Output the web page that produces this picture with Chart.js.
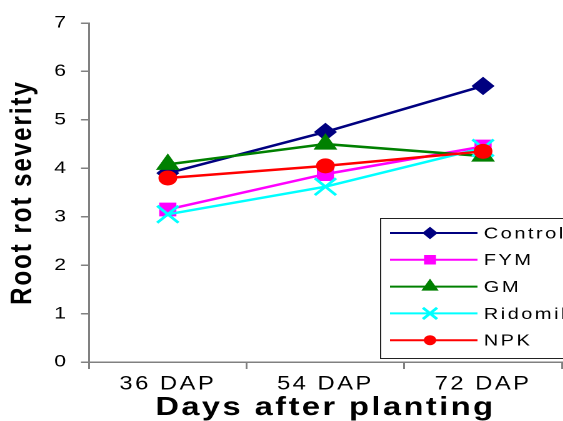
<!DOCTYPE html>
<html>
<head>
<meta charset="utf-8">
<script src="https://cdn.jsdelivr.net/npm/chart.js@4.4.0/dist/chart.umd.min.js"></script>
<style>
  html, body { margin: 0; padding: 0; background: #fff; overflow: hidden; }
  /* the source picture is stretched sideways, so draw narrow and widen it */
  #wrap { position: absolute; left: 0; top: 0; width: 464px; height: 421px; transform: scaleX(1.25); transform-origin: 0 0; }
</style>
</head>
<body>
<div id="wrap"><canvas id="rootRotChart"></canvas></div>
<script>
// chart data
const categories = ['36 DAP', '54 DAP', '72 DAP'];
const seriesNames = ['Control', 'FYM', 'GM', 'Ridomil', 'NPK'];
const controlValues = [3.9, 4.75, 5.7];
const fymValues = [3.15, 3.88, 4.45];
const gmValues = [4.08, 4.5, 4.25];
const ridomilValues = [3.05, 3.62, 4.42];
const npkValues = [3.8, 4.05, 4.35];
const yTicks = [0, 1, 2, 3, 4, 5, 6, 7];

const seriesValues = [controlValues, fymValues, gmValues, ridomilValues, npkValues];
const seriesColors = ['#000080', '#ff00ff', '#008000', '#00ffff', '#ff0000'];
const seriesMarkers = ['rectRot', 'rect', 'triangle', 'crossRot', 'circle'];
const markerSizes = [8.5, 9, 10, 12, 7];
const legendSizes = [5.5, 6, 7, 8, 4.5];

const FONT = '"Liberation Sans", Arial, sans-serif';
const SPACING = '2px';

// Excel-like wide text
const textSpacing = {
    id: 'textSpacing',
    beforeLayout(chart) { chart.ctx.letterSpacing = SPACING; },
    beforeDraw(chart) { chart.ctx.letterSpacing = SPACING; }
};

// boxed legend inside the plot, lines with markers
const legendBox = {
    id: 'legendBox',
    afterDraw(chart) {
        const ctx = chart.ctx;
        ctx.save();
        ctx.letterSpacing = SPACING;
        ctx.fillStyle = '#fff';
        ctx.fillRect(304, 218, 200, 140);
        ctx.strokeStyle = '#222';
        ctx.lineWidth = 1;
        ctx.strokeRect(304.5, 218.5, 200, 140);
        chart.data.datasets.forEach((ds, i) => {
            const y = 233 + i * 26.8;
            ctx.strokeStyle = ds.borderColor;
            ctx.lineWidth = 2;
            ctx.beginPath();
            ctx.moveTo(312, y);
            ctx.lineTo(382, y);
            ctx.stroke();
            ctx.fillStyle = ds.borderColor;
            ctx.lineWidth = ds.pointStyle === 'crossRot' ? 2.5 : 1;
            Chart.helpers.drawPoint(ctx, { pointStyle: ds.pointStyle, radius: legendSizes[i], borderWidth: ctx.lineWidth, rotation: 0 }, 344, y);
            ctx.fillStyle = '#000';
            ctx.font = '16px ' + FONT;
            ctx.textAlign = 'left';
            ctx.textBaseline = 'middle';
            ctx.fillText(ds.label, 387, y + 1);
        });
        ctx.restore();
    }
};

const datasets = seriesNames.map((name, i) => ({
    label: name,
    data: seriesValues[i],
    borderColor: seriesColors[i],
    backgroundColor: seriesColors[i],
    pointBackgroundColor: seriesColors[i],
    pointBorderColor: seriesColors[i],
    pointStyle: seriesMarkers[i],
    pointRadius: markerSizes[i],
    pointBorderWidth: seriesMarkers[i] === 'crossRot' ? 2.5 : 1,
    borderWidth: 2.5,
    tension: 0,
    order: seriesNames.length - i
}));

new Chart(document.getElementById('rootRotChart'), {
    type: 'line',
    data: { labels: categories, datasets: datasets },
    options: {
        responsive: true,
        maintainAspectRatio: false,
        devicePixelRatio: 2,
        animation: false,
        layout: { padding: { top: 23, right: 6, left: 0, bottom: 0 } },
        plugins: { legend: { display: false }, tooltip: { enabled: false } },
        scales: {
            x: {
                offset: true,
                afterFit: (scale) => { scale.height = 59; },
                grid: { offset: true, drawOnChartArea: false, tickLength: 7, color: '#808080', lineWidth: 1.5 },
                border: { color: '#808080', width: 1.5 },
                ticks: { color: '#000', font: { family: FONT, size: 19 }, padding: 4, maxRotation: 0 },
                title: { display: true, text: 'Days after planting', color: '#000', font: { family: FONT, size: 26, weight: 'bold', lineHeight: 1 }, padding: { top: 0, bottom: 0 } }
            },
            y: {
                min: yTicks[0],
                max: yTicks[yTicks.length - 1],
                afterFit: (scale) => { scale.width = 71.2; },
                afterBuildTicks: (scale) => { scale.ticks = yTicks.map(v => ({ value: v })); },
                grid: { drawOnChartArea: false, tickLength: 6.4, color: '#808080', lineWidth: 1.5 },
                border: { color: '#808080', width: 1.5 },
                ticks: { color: '#000', font: { family: FONT, size: 17 }, padding: 10 },
                title: { display: true, text: 'Root rot severity', color: '#000', font: { family: FONT, size: 24, weight: 'bold', lineHeight: 1.2 }, padding: { top: 4, bottom: 4 } }
            }
        }
    },
    plugins: [textSpacing, legendBox]
});
</script>
</body>
</html>
